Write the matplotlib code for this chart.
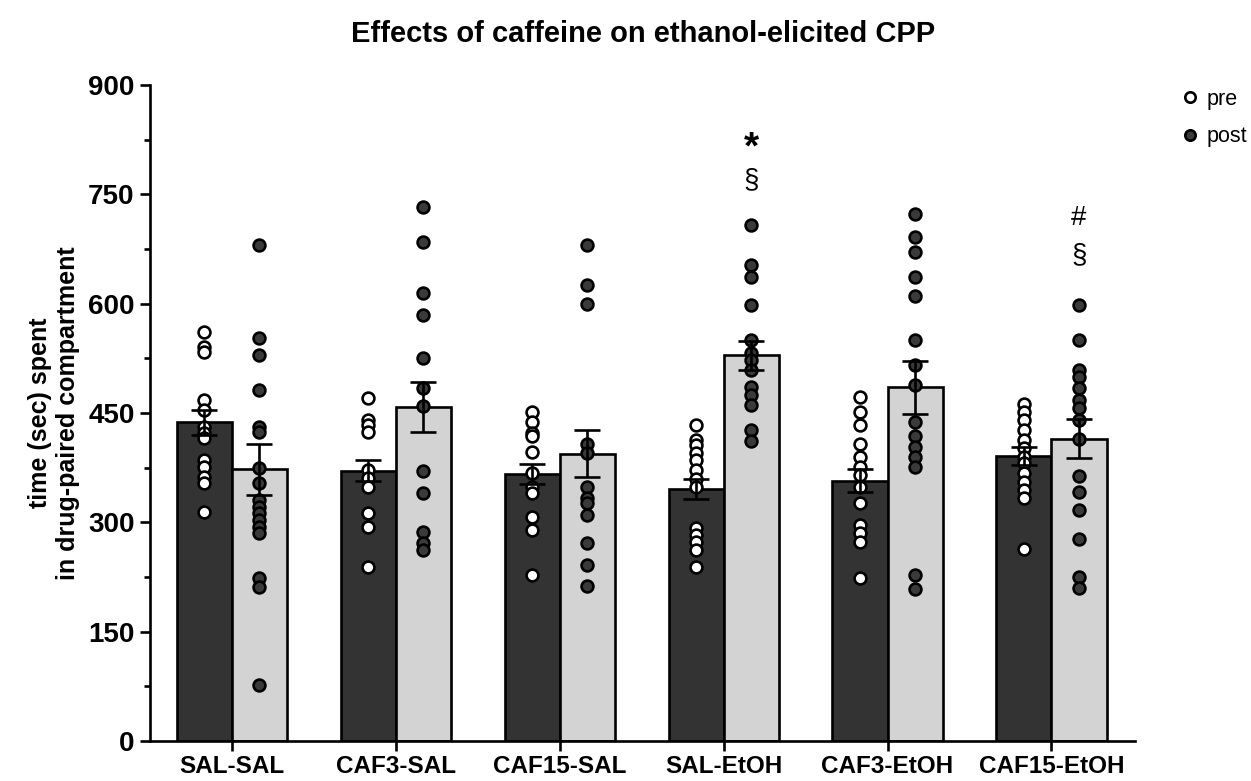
import numpy as np
import matplotlib
matplotlib.use("Agg")
import matplotlib.pyplot as plt
from matplotlib.lines import Line2D

plt.rcParams['font.family'] = ['Liberation Sans', 'DejaVu Sans']

groups = ["SAL-SAL", "CAF3-SAL", "CAF15-SAL", "SAL-EtOH", "CAF3-EtOH", "CAF15-EtOH"]

# individual animals, time (s) in drug-paired compartment
pre_points = [
    [561, 540, 534, 468, 454, 431, 422, 416, 386, 376, 362, 354, 314],
    [470, 440, 434, 424, 372, 361, 349, 313, 294, 239],
    [451, 438, 422, 418, 397, 367, 349, 340, 308, 290, 228],
    [434, 413, 406, 395, 386, 372, 360, 349, 292, 283, 273, 262, 239],
    [472, 452, 434, 408, 390, 376, 365, 349, 326, 296, 285, 273, 223],
    [463, 452, 440, 427, 413, 402, 390, 381, 367, 356, 344, 333, 264],
]
post_points = [
    [680, 553, 530, 481, 431, 424, 374, 354, 331, 321, 313, 303, 294, 285, 224, 211, 77],
    [733, 685, 614, 585, 525, 484, 459, 370, 340, 287, 271, 262],
    [680, 625, 600, 408, 395, 349, 333, 326, 310, 271, 242, 212],
    [708, 653, 637, 598, 550, 532, 523, 509, 486, 475, 461, 427, 411],
    [723, 692, 671, 636, 610, 550, 516, 488, 438, 418, 404, 390, 376, 228, 208],
    [598, 550, 509, 500, 484, 468, 457, 440, 415, 363, 342, 317, 277, 225, 210],
]

pre_mean = [437, 371, 366, 346, 357, 391]
post_mean = [373, 458, 394, 529, 485, 415]
pre_sem = [17, 14, 14, 14, 16, 12]
post_sem = [35, 34, 32, 20, 36, 27]

# significance marks (group index, label, y value)
marks = [(3, "*", 813), (3, "§", 770), (5, "#", 718), (5, "§", 667)]

fig = plt.figure(figsize=(12.51, 7.81), dpi=100)
ax = fig.add_axes([0.1199, 0.0512, 0.7874, 0.84])

x = np.arange(len(groups))
w = 0.336
lw = 1.9

ax.bar(x - w / 2, pre_mean, w, color="#333333", edgecolor="black", linewidth=lw, zorder=2)
ax.bar(x + w / 2, post_mean, w, color="#d3d3d3", edgecolor="black", linewidth=lw, zorder=2)

for i in range(len(groups)):
    ax.plot(np.full(len(pre_points[i]), x[i] - w / 2), pre_points[i], "o",
            ms=8.5, mfc="white", mec="black", mew=1.9, zorder=3)
    ax.plot(np.full(len(post_points[i]), x[i] + w / 2), post_points[i], "o",
            ms=8.5, mfc="#3a3a3a", mec="black", mew=1.9, zorder=3)

ax.errorbar(x - w / 2, pre_mean, yerr=pre_sem, fmt="none", ecolor="black",
            elinewidth=lw, capsize=9.5, capthick=lw, zorder=4)
ax.errorbar(x + w / 2, post_mean, yerr=post_sem, fmt="none", ecolor="black",
            elinewidth=lw, capsize=9.5, capthick=lw, zorder=4)

for gi, txt, yv in marks:
    fs = 28 if txt == "*" else 20
    ax.text(x[gi] + w / 2, yv, txt, ha="center", va="center", fontsize=fs,
            fontweight="bold" if txt == "*" else "normal")

ax.set_xlim(-0.5, 5.51)
ax.set_ylim(0, 900)
ax.set_yticks(np.arange(0, 901, 150))
ax.set_yticks(np.arange(75, 900, 150), minor=True)
ax.set_xticks(x)
ax.set_xticklabels(groups, fontsize=17.5, fontweight="bold")
for lab in ax.get_yticklabels():
    lab.set_fontsize(20)
    lab.set_fontweight("bold")

ax.spines["top"].set_visible(False)
ax.spines["right"].set_visible(False)
ax.spines["left"].set_linewidth(lw)
ax.spines["bottom"].set_linewidth(lw)
ax.tick_params(axis="y", which="major", length=7, width=lw, pad=4)
ax.tick_params(axis="y", which="minor", length=4, width=lw)
ax.tick_params(axis="x", length=7, width=lw, pad=3)

ax.set_ylabel("time (sec) spent\nin drug-paired compartment", fontsize=18,
              fontweight="bold")
ax.yaxis.set_label_coords(-0.071, 0.5)

fig.suptitle("Effects of caffeine on ethanol-elicited CPP", fontsize=21,
             fontweight="bold", x=0.514, y=0.975)

handles = [
    Line2D([], [], ls="none", marker="o", ms=7.5, mfc="white", mec="black", mew=1.9),
    Line2D([], [], ls="none", marker="o", ms=7.5, mfc="#3a3a3a", mec="black", mew=1.9),
]
fig.legend(handles, ["pre", "post"], loc="upper left", bbox_to_anchor=(0.944, 0.886),
           frameon=False, fontsize=15.5, handletextpad=0.4, labelspacing=0.75,
           handlelength=0.8, borderaxespad=0, borderpad=0)

fig.savefig("out.png", dpi=100)
